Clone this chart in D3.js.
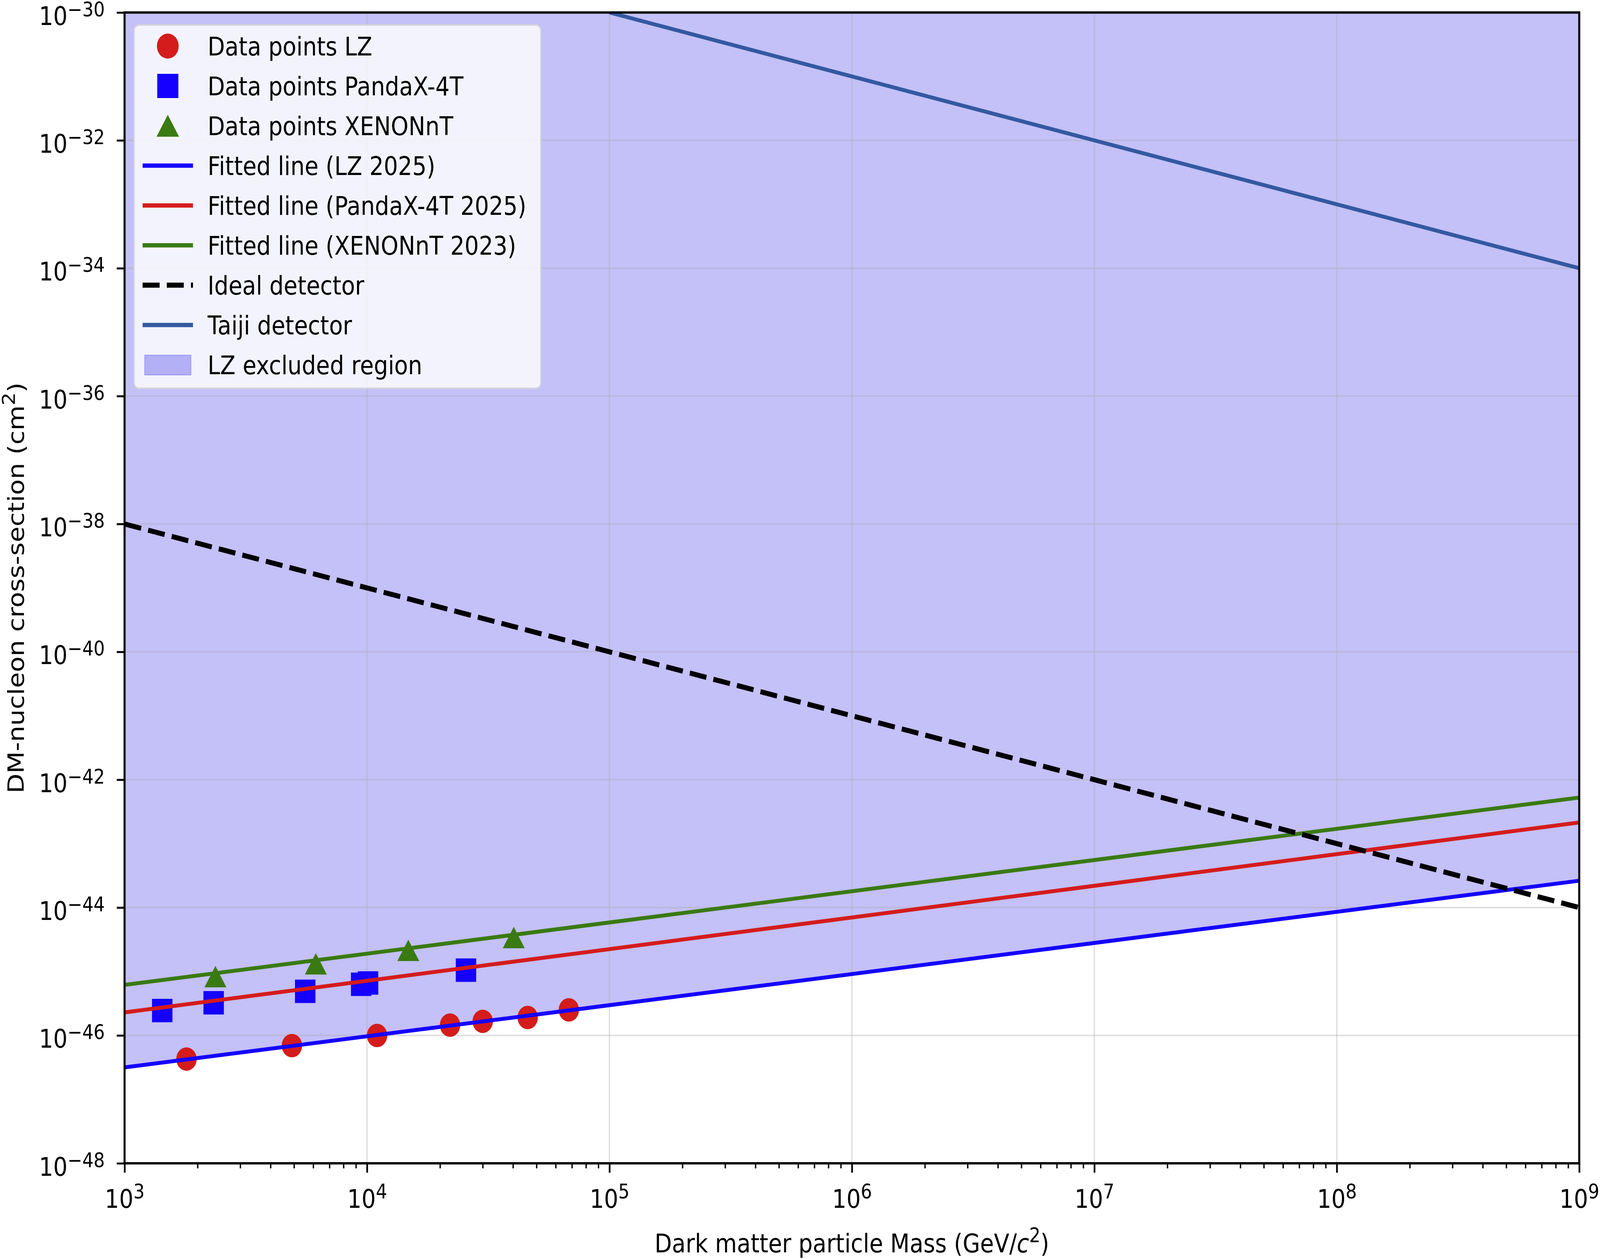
<!DOCTYPE html>
<html>
<head>
<meta charset="utf-8">
<script src="https://cdn.jsdelivr.net/npm/d3@7"></script>
<style>
  html, body { margin: 0; padding: 0; background: #fff; overflow: hidden; }
  #chart svg { display: block; width: 100vw; height: 100vh; }
  text { font-family: "DejaVu Sans", sans-serif; fill: #000; }
</style>
</head>
<body>
<div id="chart"></div>
<script>
// data (mass in GeV/c^2, cross-section in cm^2)
const lzMass = [1.8e3, 4.9e3, 1.1e4, 2.2e4, 3.0e4, 4.6e4, 6.8e4];
const lzSigma = [4.27e-47, 6.92e-47, 1.0e-46, 1.45e-46, 1.66e-46, 1.91e-46, 2.51e-46];

const pandaMass = [1.43e3, 2.33e3, 5.56e3, 9.46e3, 1.01e4, 2.56e4];
const pandaSigma = [2.45e-46, 3.24e-46, 4.90e-46, 6.31e-46, 6.61e-46, 1.05e-45];

const xenonMass = [2.37e3, 6.15e3, 1.48e4, 4.03e4];
const xenonSigma = [8.32e-46, 1.32e-45, 2.14e-45, 3.39e-45];

// fitted / reference lines (end points, straight in log-log)
const fitMass = [1e3, 1e9];
const fitLZ = [3.16e-47, 2.63e-44];
const fitPanda = [2.29e-46, 2.14e-43];
const fitXenon = [6.17e-46, 5.25e-43];
const idealSigma = [1e-38, 1e-44];
const taijiMass = [1e5, 1e9];
const taijiSigma = [1e-30, 1e-34];

// ticks
const xTickExp = [3, 4, 5, 6, 7, 8, 9];
const yTickExp = [-30, -32, -34, -36, -38, -40, -42, -44, -46, -48];

const legendLabels = [
  "Data points LZ", "Data points PandaX-4T", "Data points XENONnT",
  "Fitted line (LZ 2025)", "Fitted line (PandaX-4T 2025)", "Fitted line (XENONnT 2023)",
  "Ideal detector", "Taiji detector", "LZ excluded region"
];

// set the dimensions and margins of the graph
const W = 4701, H = 3223;
const margin = {top: 32, right: 61, bottom: 245, left: 366},
  width = W - margin.left - margin.right,
  height = H - margin.top - margin.bottom;

const fs = 66, fsSup = 52;
const cRed = "#d41c1c", cBlue = "#1500ff", cGreen = "#3a7a12", cTaiji = "#3359a0";
const cFill = "#c4c0f8";

// the svg scales itself to the window through its viewBox
const svgRoot = d3.select("#chart")
  .append("svg")
  .attr("viewBox", `0 0 ${W} ${H}`)
  .attr("preserveAspectRatio", "none");
svgRoot.append("rect").attr("width", W).attr("height", H).attr("fill", "#fff");

const svg = svgRoot.append("g")
  .attr("transform", `translate(${margin.left},${margin.top})`);

const x = d3.scaleLog().domain([1e3, 1e9]).range([0, width]);
const y = d3.scaleLog().domain([1e-48, 1e-30]).range([height, 0]);

svg.append("clipPath").attr("id", "clip")
  .append("rect").attr("width", width).attr("height", height);

const plot = svg.append("g").attr("clip-path", "url(#clip)");

// LZ excluded region: between LZ fit and the top
const fillData = fitMass.map((m, i) => ({m: m, s: fitLZ[i]}));
plot.append("path")
  .datum(fillData)
  .attr("fill", cFill)
  .attr("d", d3.area()
    .x(d => x(d.m))
    .y0(y(1e-30))
    .y1(d => y(d.s)));

// grid
const xMajor = xTickExp.map(e => Math.pow(10, e));
const yMajor = yTickExp.map(e => Math.pow(10, e));
plot.append("g").selectAll("line").data(xMajor).join("line")
  .attr("x1", d => x(d)).attr("x2", d => x(d))
  .attr("y1", 0).attr("y2", height)
  .attr("stroke", "#b0b0b0").attr("stroke-opacity", 0.4).attr("stroke-width", 4);
plot.append("g").selectAll("line").data(yMajor).join("line")
  .attr("y1", d => y(d)).attr("y2", d => y(d))
  .attr("x1", 0).attr("x2", width)
  .attr("stroke", "#b0b0b0").attr("stroke-opacity", 0.4).attr("stroke-width", 4);

// matplotlib-like triangle (bbox centred)
const triUp = {
  draw(ctx, size) {
    const s = Math.sqrt(size);
    ctx.moveTo(0, -s * 0.45);
    ctx.lineTo(s * 0.53, s * 0.45);
    ctx.lineTo(-s * 0.53, s * 0.45);
    ctx.closePath();
  }
};

// data points
plot.append("g").selectAll("circle")
  .data(lzMass.map((m, i) => ({m: m, s: lzSigma[i]})))
  .join("circle")
  .attr("cx", d => x(d.m)).attr("cy", d => y(d.s))
  .attr("r", 30).attr("fill", cRed);

plot.append("g").selectAll("rect")
  .data(pandaMass.map((m, i) => ({m: m, s: pandaSigma[i]})))
  .join("rect")
  .attr("x", d => x(d.m) - 30).attr("y", d => y(d.s) - 30)
  .attr("width", 60).attr("height", 60).attr("fill", cBlue);

plot.append("g").selectAll("path")
  .data(xenonMass.map((m, i) => ({m: m, s: xenonSigma[i]})))
  .join("path")
  .attr("transform", d => `translate(${x(d.m)},${y(d.s)})`)
  .attr("d", d3.symbol().type(triUp).size(3700))
  .attr("fill", cGreen);

// lines
const line = d3.line().x(d => x(d.m)).y(d => y(d.s));
function addLine(ms, ss, color, w, dash) {
  plot.append("path")
    .datum(ms.map((m, i) => ({m: m, s: ss[i]})))
    .attr("fill", "none")
    .attr("stroke", color)
    .attr("stroke-width", w)
    .attr("stroke-dasharray", dash || null)
    .attr("d", line);
}
addLine(fitMass, fitLZ, cBlue, 10);
addLine(fitMass, fitPanda, cRed, 10);
addLine(fitMass, fitXenon, cGreen, 10);
addLine(taijiMass, taijiSigma, cTaiji, 10);
addLine(fitMass, idealSigma, "#000", 13, "50,21");

// x axis: major + minor ticks
const xMinor = [];
xTickExp.slice(0, -1).forEach(e => {
  for (let k = 2; k <= 9; k++) xMinor.push(k * Math.pow(10, e));
});
const gx = svg.append("g")
  .attr("transform", `translate(0,${height})`)
  .call(d3.axisBottom(x).tickValues(xMajor).tickFormat("").tickSize(24).tickSizeOuter(0));
svg.append("g")
  .attr("transform", `translate(0,${height})`)
  .call(d3.axisBottom(x).tickValues(xMinor).tickFormat("").tickSize(13).tickSizeOuter(0))
  .call(g => g.select(".domain").remove())
  .selectAll("line").attr("stroke-width", 4);
gx.select(".domain").remove();
gx.selectAll(".tick line").attr("stroke-width", 5);
gx.selectAll(".tick").append("text")
  .attr("y", 114)
  .attr("text-anchor", "middle")
  .style("font-size", fs + "px")
  .each(function(d, i) {
    const t = d3.select(this);
    t.append("tspan").text("10");
    t.append("tspan").attr("dy", -24).style("font-size", fsSup + "px").text(xTickExp[i]);
  });

// y axis
const gy = svg.append("g")
  .call(d3.axisLeft(y).tickValues(yMajor).tickFormat("").tickSize(23).tickSizeOuter(0));
gy.select(".domain").remove();
gy.selectAll(".tick line").attr("stroke-width", 5);
gy.selectAll(".tick").append("text")
  .attr("x", -58)
  .attr("y", 31)
  .attr("text-anchor", "end")
  .style("font-size", fs + "px")
  .each(function(d, i) {
    const t = d3.select(this);
    t.append("tspan").text("10");
    t.append("tspan").attr("dy", -22).style("font-size", fsSup + "px").text("\u2212" + Math.abs(yTickExp[i]));
  });

// spines
svg.append("rect")
  .attr("width", width).attr("height", height)
  .attr("fill", "none").attr("stroke", "#000").attr("stroke-width", 6);

// axis labels
const xl = svgRoot.append("text")
  .attr("x", margin.left + width / 2)
  .attr("y", 3206)
  .attr("text-anchor", "middle")
  .style("font-size", fs + "px");
xl.append("tspan").text("Dark matter particle Mass (GeV/");
xl.append("tspan").style("font-style", "italic").text("c");
xl.append("tspan").attr("dy", -26).style("font-size", fsSup + "px").text("2");
xl.append("tspan").attr("dy", 26).text(")");

const yl = svgRoot.append("text")
  .attr("transform", `translate(70,${margin.top + height / 2}) rotate(-90)`)
  .attr("text-anchor", "middle")
  .style("font-size", fs + "px");
yl.append("tspan").text("DM-nucleon cross-section (cm");
yl.append("tspan").attr("dy", -26).style("font-size", fsSup + "px").text("2");
yl.append("tspan").attr("dy", 26).text(")");

// legend
const lg = svgRoot.append("g");
lg.append("rect")
  .attr("x", 394).attr("y", 64).attr("width", 1195).attr("height", 930)
  .attr("rx", 14)
  .attr("fill", "#fff").attr("fill-opacity", 0.8)
  .attr("stroke", "#d4d4dc").attr("stroke-width", 4);

const rowY = i => 118 + i * 102;
const hx0 = 419, hx1 = 567, hxc = 493;
lg.append("circle").attr("cx", hxc).attr("cy", rowY(0)).attr("r", 32).attr("fill", cRed);
lg.append("rect").attr("x", hxc - 31).attr("y", rowY(1) - 31).attr("width", 62).attr("height", 62).attr("fill", cBlue);
lg.append("path").attr("transform", `translate(${hxc},${rowY(2)})`)
  .attr("d", d3.symbol().type(triUp).size(3900)).attr("fill", cGreen);
[[cBlue, null], [cRed, null], [cGreen, null], ["#000", "50,21"], [cTaiji, null]].forEach((c, k) => {
  lg.append("line")
    .attr("x1", hx0).attr("x2", hx1)
    .attr("y1", rowY(3 + k)).attr("y2", rowY(3 + k))
    .attr("stroke", c[0]).attr("stroke-width", c[1] ? 13 : 11)
    .attr("stroke-dasharray", c[1]);
});
lg.append("rect")
  .attr("x", 426).attr("y", rowY(8) - 24).attr("width", 134).attr("height", 49)
  .attr("fill", "#b4b0f6").attr("stroke", "#a8a4f6").attr("stroke-width", 4);

lg.selectAll("text.lab").data(legendLabels).join("text")
  .attr("class", "lab")
  .attr("x", 610)
  .attr("y", (d, i) => rowY(i) + 24)
  .style("font-size", fs + "px")
  .text(d => d);
</script>
</body>
</html>
